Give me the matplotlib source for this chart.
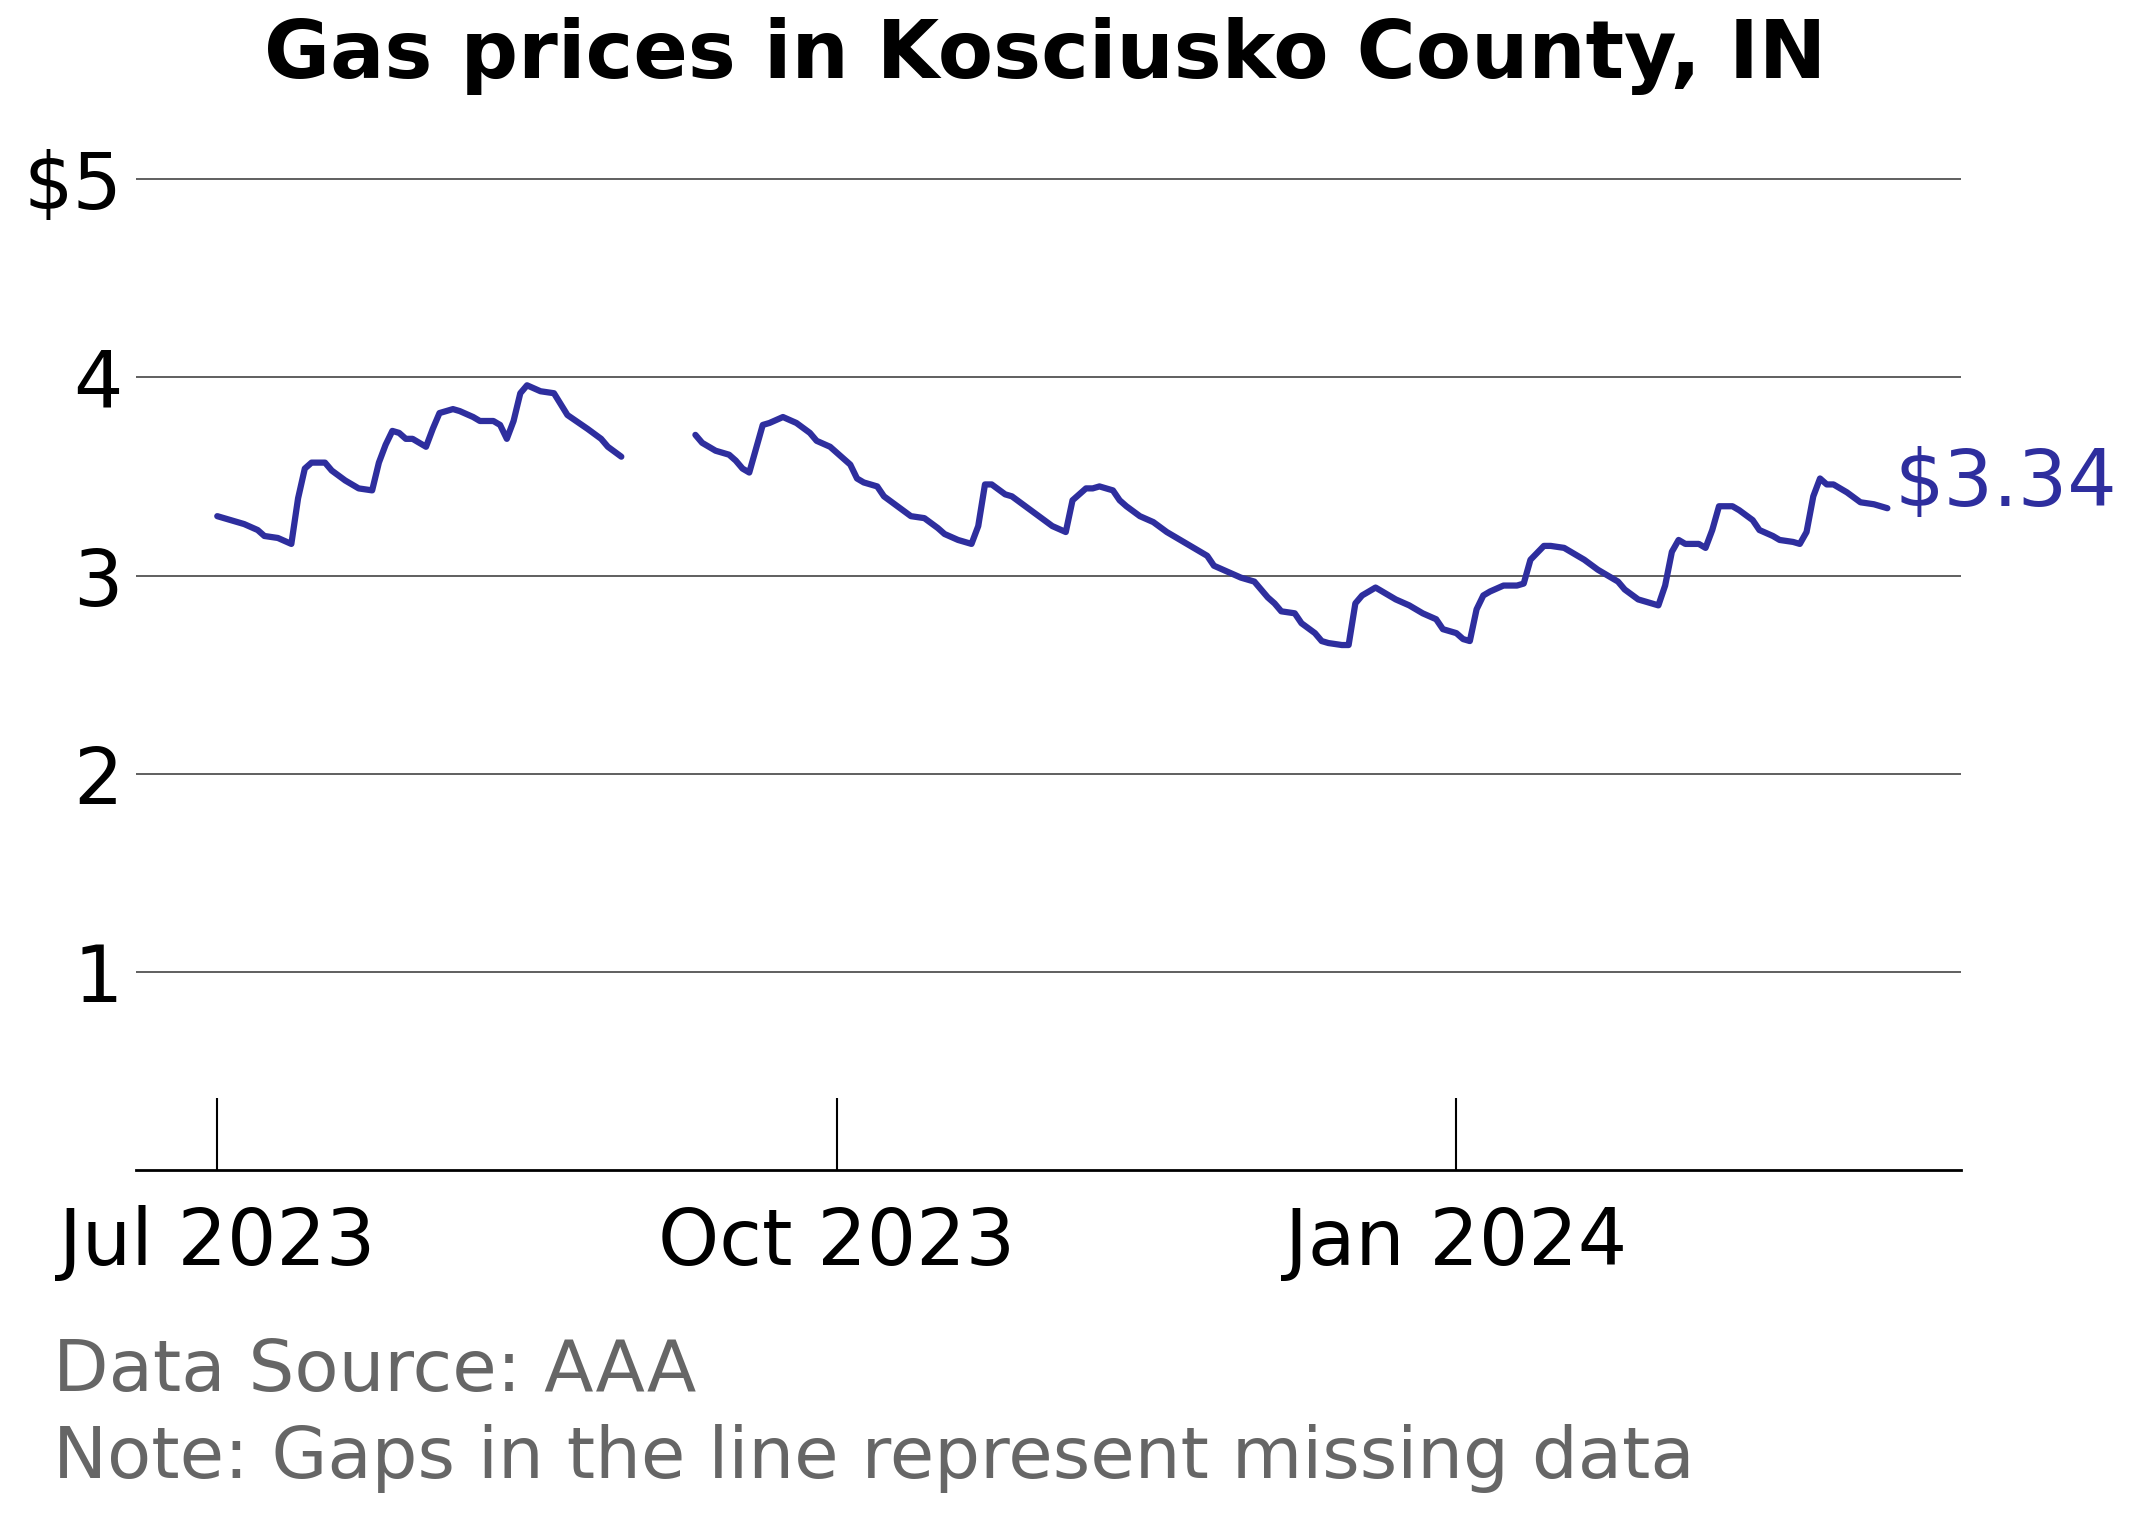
import matplotlib
matplotlib.use("Agg")
import matplotlib.pyplot as plt
import numpy as np
import datetime as dt

start = dt.date(2023, 7, 1)
days1 = [0,2,4,6,7,9,11,12,13,14,16,17,19,21,23,24,25,26,27,28,29,31,32,33,35,36,38,39,41,42,43,44,45,46,48,50,52,55,57,58,60]
vals1 = [3.30,3.28,3.26,3.23,3.20,3.19,3.16,3.39,3.54,3.57,3.57,3.53,3.48,3.44,3.43,3.57,3.66,3.73,3.72,3.69,3.69,3.65,3.74,3.82,3.84,3.83,3.80,3.78,3.78,3.76,3.69,3.78,3.92,3.96,3.93,3.92,3.81,3.74,3.69,3.65,3.60]
days2 = [71,72,74,76,77,78,79,81,82,84,86,88,89,91,92,94,95,96,98,99,101,103,105,107,108,110,112,113,114,115,117,118,120,122,124,126,127,129,130,131,133,134,135,137,139,141,143,145,147,148,150,152,154,155,156,157,158,160,161,163,164,165,167,168,169,170,172,173,175,177,179,181,182,184,185,186,187,188,189,191,193,194,195,197,198,200,202,203,205,206,208,209,211,213,214,215,216,217,218,220,221,222,223,225,226,228,229,231,232,234,235,236,237,238,239,240,242,244,246,248]
vals2 = [3.71,3.67,3.63,3.61,3.58,3.54,3.52,3.76,3.77,3.80,3.77,3.72,3.68,3.65,3.62,3.56,3.49,3.47,3.45,3.40,3.35,3.30,3.29,3.24,3.21,3.18,3.16,3.25,3.46,3.46,3.41,3.40,3.35,3.30,3.25,3.22,3.38,3.44,3.44,3.45,3.43,3.38,3.35,3.30,3.27,3.22,3.18,3.14,3.10,3.05,3.02,2.99,2.97,2.93,2.89,2.86,2.82,2.81,2.76,2.71,2.67,2.66,2.65,2.65,2.86,2.90,2.94,2.92,2.88,2.85,2.81,2.78,2.73,2.71,2.68,2.67,2.83,2.90,2.92,2.95,2.95,2.96,3.08,3.15,3.15,3.14,3.10,3.08,3.03,3.01,2.97,2.93,2.88,2.86,2.85,2.95,3.12,3.18,3.16,3.16,3.14,3.23,3.35,3.35,3.33,3.28,3.23,3.20,3.18,3.17,3.16,3.22,3.40,3.49,3.46,3.46,3.42,3.37,3.36,3.34]

days = days1 + [65] + days2
vals = vals1 + [np.nan] + vals2
dates = [start + dt.timedelta(days=d) for d in days]

color = "#2e2e9e"
fig = plt.figure(figsize=(21.32, 15.24), dpi=100)
ax = fig.add_axes([0.064, 0.232, 0.856, 0.683])
ax.plot(dates, vals, color=color, lw=4.5, solid_capstyle="round", solid_joinstyle="round")
ax.set_ylim(0, 5.25)
ax.set_xlim(dt.date(2023, 6, 19), dt.date(2024, 3, 16))
ax.set_yticks([1, 2, 3, 4, 5])
ax.set_yticklabels(["1", "2", "3", "4", "$5"])
ax.yaxis.grid(True, color="#444444", lw=1.2)
ax.set_axisbelow(True)
ax.set_xticks([dt.date(2023, 7, 1), dt.date(2023, 10, 1), dt.date(2024, 1, 1)])
ax.set_xticklabels(["Jul 2023", "Oct 2023", "Jan 2024"])
for s in ["top", "right", "left"]:
    ax.spines[s].set_visible(False)
ax.spines["bottom"].set_linewidth(2)
ax.tick_params(axis="y", length=0, labelsize=56, pad=10)
ax.tick_params(axis="x", direction="in", length=52, width=1.5, labelsize=56, pad=25)
ax.text(dates[-1] + dt.timedelta(days=1), vals[-1] + 0.12, "$3.34", color=color, fontsize=56, va="center", ha="left")
fig.text(0.49, 0.963, "Gas prices in Kosciusko County, IN", fontsize=58, fontweight="bold", ha="center", va="center")
fig.text(0.025, 0.1, "Data Source: AAA", fontsize=52, color="#666666", va="center")
fig.text(0.025, 0.043, "Note: Gaps in the line represent missing data", fontsize=52, color="#666666", va="center")
fig.savefig("out.png", dpi=100)
